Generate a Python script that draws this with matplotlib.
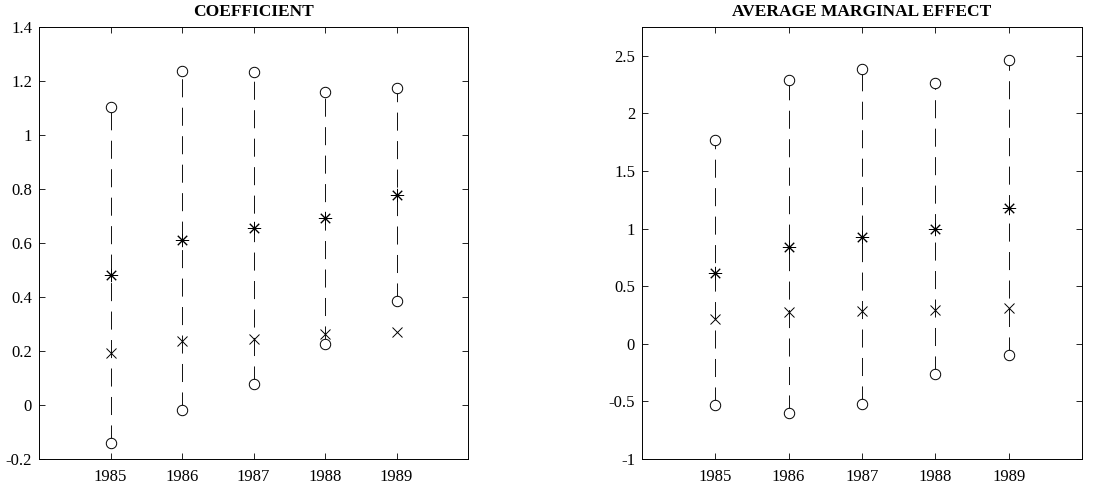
import matplotlib.pyplot as plt

plt.rcParams['font.family'] = ['Liberation Serif', 'DejaVu Serif']
plt.rcParams['lines.scale_dashes'] = False

years = [1985, 1986, 1987, 1988, 1989]

# coefficient panel
coef_upper = [1.104, 1.237, 1.234, 1.159, 1.175]
coef_lower = [-0.142, -0.017, 0.078, 0.226, 0.384]
coef_star = [0.481, 0.611, 0.654, 0.691, 0.778]
coef_cross = [0.194, 0.238, 0.243, 0.262, 0.270]

# average marginal effect panel
ame_upper = [1.773, 2.288, 2.386, 2.264, 2.466]
ame_lower = [-0.528, -0.604, -0.526, -0.260, -0.101]
ame_star = [0.619, 0.839, 0.929, 1.000, 1.183]
ame_cross = [0.215, 0.272, 0.284, 0.296, 0.310]

coef_yticks = [-0.2, 0, 0.2, 0.4, 0.6, 0.8, 1, 1.2, 1.4]
coef_ylabels = ['-0.2', '0', '0.2', '0.4', '0.6', '0.8', '1', '1.2', '1.4']
ame_yticks = [-1, -0.5, 0, 0.5, 1, 1.5, 2, 2.5]
ame_ylabels = ['-1', '-0.5', '0', '0.5', '1', '1.5', '2', '2.5']

fig = plt.figure(figsize=(11.08, 4.93), dpi=100)
ax1 = fig.add_axes([0.0352, 0.069, 0.3872, 0.876])
ax2 = fig.add_axes([0.5794, 0.069, 0.3971, 0.876])


def draw(ax, lower, upper, star, cross, title, ylim, yticks, ylabels):
    for x, lo, hi in zip(years, lower, upper):
        ax.plot([x, x], [lo, hi], color='black', lw=0.65, dashes=(13, 7.5))
    ax.plot(years, upper, 'o', mfc='white', mec='black', ms=7.5, mew=0.7)
    ax.plot(years, lower, 'o', mfc='white', mec='black', ms=7.5, mew=0.7)
    ax.plot(years, star, marker=(8, 2, 0), ls='none', color='black', ms=9.5, mew=0.7)
    ax.plot(years, cross, 'x', ls='none', color='black', ms=6.8, mew=0.7)
    ax.set_xlim(1984, 1990)
    ax.set_ylim(*ylim)
    ax.set_xticks(years)
    ax.set_xticklabels([str(y) for y in years])
    ax.set_yticks(yticks)
    ax.set_yticklabels(ylabels)
    ax.tick_params(direction='in', length=4, width=0.6, top=True, right=True,
                   labelsize=12, pad=5)
    ax.tick_params(axis='x', pad=7)
    for s in ax.spines.values():
        s.set_linewidth(0.7)
    ax.set_title(title, fontsize=12.5, fontweight='bold', pad=8)


draw(ax1, coef_lower, coef_upper, coef_star, coef_cross, 'COEFFICIENT',
     (-0.2, 1.4), coef_yticks, coef_ylabels)
draw(ax2, ame_lower, ame_upper, ame_star, ame_cross, 'AVERAGE MARGINAL EFFECT',
     (-1, 2.75), ame_yticks, ame_ylabels)

fig.savefig('out.png', dpi=100)
